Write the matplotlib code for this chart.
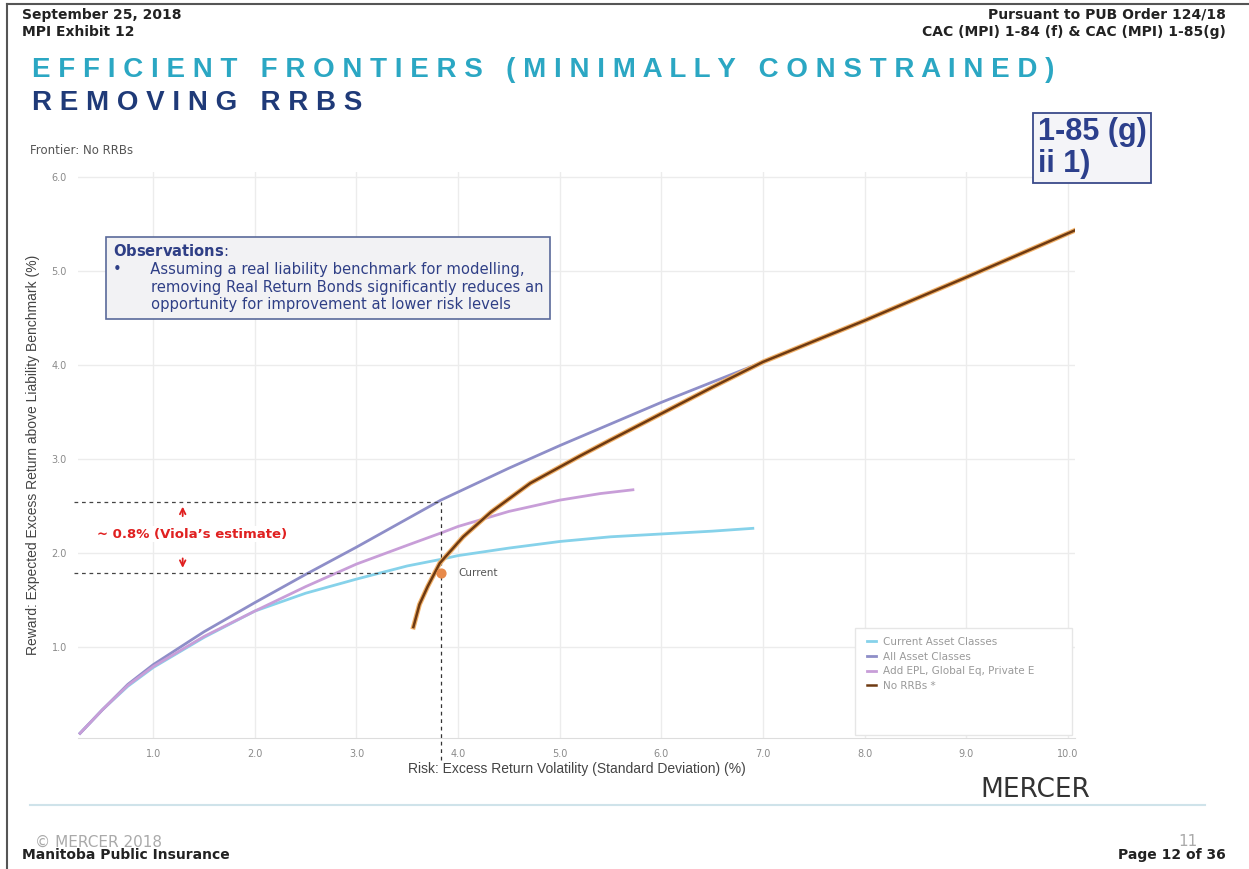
import matplotlib.pyplot as plt
from matplotlib.patches import Rectangle

# efficient frontiers, values
cur_x = [0.28, 0.5, 0.75, 1.0, 1.5, 2.0, 2.5, 3.0, 3.5, 3.83, 4.0, 4.5, 5.0, 5.5, 6.0, 6.5, 6.9]
cur_y = [0.08, 0.33, 0.58, 0.78, 1.10, 1.38, 1.57, 1.72, 1.86, 1.93, 1.97, 2.05, 2.12, 2.17, 2.20, 2.23, 2.26]

all_x = [0.28, 0.5, 0.75, 1.0, 1.5, 2.0, 2.5, 3.0, 3.83, 4.5, 5.0, 6.0, 7.0, 8.0, 9.0, 10.07]
all_y = [0.08, 0.33, 0.60, 0.81, 1.16, 1.47, 1.77, 2.06, 2.56, 2.90, 3.14, 3.60, 4.03, 4.47, 4.93, 5.43]

epl_x = [0.28, 0.5, 0.75, 1.0, 1.5, 2.0, 2.5, 3.0, 3.5, 3.83, 4.0, 4.5, 5.0, 5.4, 5.72]
epl_y = [0.08, 0.33, 0.59, 0.79, 1.11, 1.38, 1.64, 1.88, 2.08, 2.21, 2.28, 2.44, 2.56, 2.63, 2.67]

norrb_x = [3.56, 3.62, 3.70, 3.82, 4.05, 4.32, 4.71, 5.20, 5.5, 6.0, 6.5, 7.0, 7.5, 8.0, 9.0, 10.07]
norrb_y = [1.21, 1.45, 1.64, 1.89, 2.17, 2.43, 2.74, 3.03, 3.20, 3.48, 3.76, 4.03, 4.25, 4.47, 4.93, 5.43]

current_pt = (3.83, 1.79)
viola_top = 2.54

series_names = ["Current Asset Classes", "All Asset Classes",
                "Add EPL, Global Eq, Private E", "No RRBs *"]
xticks = [1.0, 2.0, 3.0, 4.0, 5.0, 6.0, 7.0, 8.0, 9.0, 10.0]
yticks = [1.0, 2.0, 3.0, 4.0, 5.0, 6.0]

fig = plt.figure(figsize=(12.49, 8.69), dpi=100)
W, H = 1249, 869


def px(x, y):
    return x / W, 1 - y / H


# page furniture
fig.add_artist(plt.Line2D([0.006, 0.006], [0.0, 0.995], color="#555555", lw=1.5))
fig.add_artist(plt.Line2D([0.006, 1.0], [0.995, 0.995], color="#555555", lw=1.5))
hdr = dict(fontsize=10, fontweight="bold", color="#222222", family="DejaVu Sans")
fig.text(*px(22, 15), "September 25, 2018", va="center", **hdr)
fig.text(*px(22, 32), "MPI Exhibit 12", va="center", **hdr)
fig.text(*px(1226, 15), "Pursuant to PUB Order 124/18", va="center", ha="right", **hdr)
fig.text(*px(1226, 32), "CAC (MPI) 1-84 (f) & CAC (MPI) 1-85(g)", va="center", ha="right", **hdr)

title1 = "   ".join(" ".join(w) for w in "EFFICIENT FRONTIERS (MINIMALLY CONSTRAINED)".split())
title2 = "   ".join(" ".join(w) for w in "REMOVING RRBS".split())
fig.text(*px(32, 70), title1, va="center", fontsize=20, fontweight="bold",
         color="#2ba7c3", family="Liberation Sans")
fig.text(*px(32, 103), title2, va="center", fontsize=20, fontweight="bold",
         color="#1f3a78", family="Liberation Sans")
fig.text(*px(30, 151), "Frontier: No RRBs", va="center", fontsize=8.5, color="#555555")

fig.text(*px(1038, 148), "1-85 (g)\nii 1)", va="center", ha="left", fontsize=22,
         fontweight="bold", color="#2c3f8c", family="Liberation Sans", linespacing=1.05,
         bbox=dict(boxstyle="square,pad=0.15", fc="#f4f4f8", ec="#3a4a8a", lw=1.3))

fig.text(*px(1090, 790), "MERCER", va="center", ha="right", fontsize=19,
         color="#333333", family="DejaVu Sans")
fig.add_artist(plt.Line2D([30 / W, 1205 / W], [1 - 805 / H] * 2, color="#cfe3ea", lw=1.5))
fig.text(*px(35, 842), "© MERCER 2018", va="center", fontsize=11, color="#aaaaaa")
fig.text(*px(22, 855), "Manitoba Public Insurance", va="center", **hdr)
fig.text(*px(1198, 842), "11", va="center", ha="right", fontsize=11, color="#aaaaaa")
fig.text(*px(1226, 855), "Page 12 of 36", va="center", ha="right", **hdr)

# chart
ax = fig.add_axes([78 / W, 1 - 738 / H, (1075 - 78) / W, (738 - 172) / H])
ax.set_xlim(0.26, 10.07)
ax.set_ylim(0.03, 6.05)
ax.set_xticks(xticks)
ax.set_yticks(yticks)
ax.set_xticklabels([f"{v:.1f}" for v in xticks])
ax.set_yticklabels([f"{v:.1f}" for v in yticks])
ax.tick_params(length=0, labelsize=7, labelcolor="#8a8a8a", pad=8)
ax.grid(True, color="#ececec", lw=1)
ax.set_axisbelow(True)
for s in ["top", "right", "left"]:
    ax.spines[s].set_visible(False)
ax.spines["bottom"].set_color("#dddddd")
ax.set_xlabel("Risk: Excess Return Volatility (Standard Deviation) (%)",
              fontsize=10, color="#444444", labelpad=2, family="Liberation Sans")
ax.set_ylabel("Reward: Expected Excess Return above Liability Benchmark (%)",
              fontsize=10, color="#444444", labelpad=8, family="Liberation Sans")

ax.plot(cur_x, cur_y, color="#86d2ea", lw=2, label=series_names[0])
ax.plot(all_x, all_y, color="#8e8ec8", lw=2, label=series_names[1])
ax.plot(epl_x, epl_y, color="#c89ed8", lw=2, label=series_names[2])
ax.plot(norrb_x, norrb_y, color="#f2b26a", lw=3.5, zorder=3)
ax.plot(norrb_x, norrb_y, color="#6e3a12", lw=1.8, zorder=4, label=series_names[3])

# dashed guides for the Viola estimate
ax.plot([0.22, current_pt[0]], [viola_top, viola_top], color="#444444", lw=0.9,
        ls=(0, (3, 3)), clip_on=False)
ax.plot([0.22, current_pt[0]], [current_pt[1]] * 2, color="#444444", lw=0.9,
        ls=(0, (3, 3)), clip_on=False)
ax.plot([current_pt[0]] * 2, [-0.2, viola_top], color="#333333", lw=0.9,
        ls=(0, (3, 3)), clip_on=False)
ax.scatter([current_pt[0]], [current_pt[1]], s=40, color="#e88a4a", zorder=5)
ax.text(current_pt[0] + 0.17, current_pt[1], "Current", fontsize=7.5, color="#555555", va="center")

ax.annotate("", xy=(1.29, viola_top - 0.02), xytext=(1.29, viola_top - 0.18),
            arrowprops=dict(arrowstyle="->", color="#e02020", lw=1.3))
ax.annotate("", xy=(1.29, current_pt[1] + 0.02), xytext=(1.29, current_pt[1] + 0.18),
            arrowprops=dict(arrowstyle="->", color="#e02020", lw=1.3))
ax.text(1.38, (viola_top + current_pt[1]) / 2 + 0.03, "~ 0.8% (Viola’s estimate)",
        ha="center", va="center", fontsize=9.5, fontweight="bold", color="#e02020",
        bbox=dict(fc="white", ec="none", pad=1))

# observations box
obs = ("$\\bf{Observations}$:\n"
       "•      Assuming a real liability benchmark for modelling,\n"
       "        removing Real Return Bonds significantly reduces an\n"
       "        opportunity for improvement at lower risk levels")
ax.text(0.035, 0.874, obs, transform=ax.transAxes, va="top", ha="left",
        fontsize=10.6, color="#2f3f86", linespacing=1.22,
        bbox=dict(boxstyle="square,pad=0.45", fc="#f2f2f4", ec="#5a6a9a", lw=1.2))

# legend
ax.add_patch(Rectangle((0.779, 0.005), 0.218, 0.19, transform=ax.transAxes,
                       fc="white", ec="#e6e6e6", lw=1, zorder=6))
leg = ax.legend(loc="upper left", bbox_to_anchor=(0.782, 0.195), frameon=False,
                fontsize=7.5, labelcolor="#9a9a9a", handlelength=0.9, handletextpad=0.6,
                labelspacing=0.45)
leg.set_zorder(7)

fig.savefig("out.png", dpi=100)
